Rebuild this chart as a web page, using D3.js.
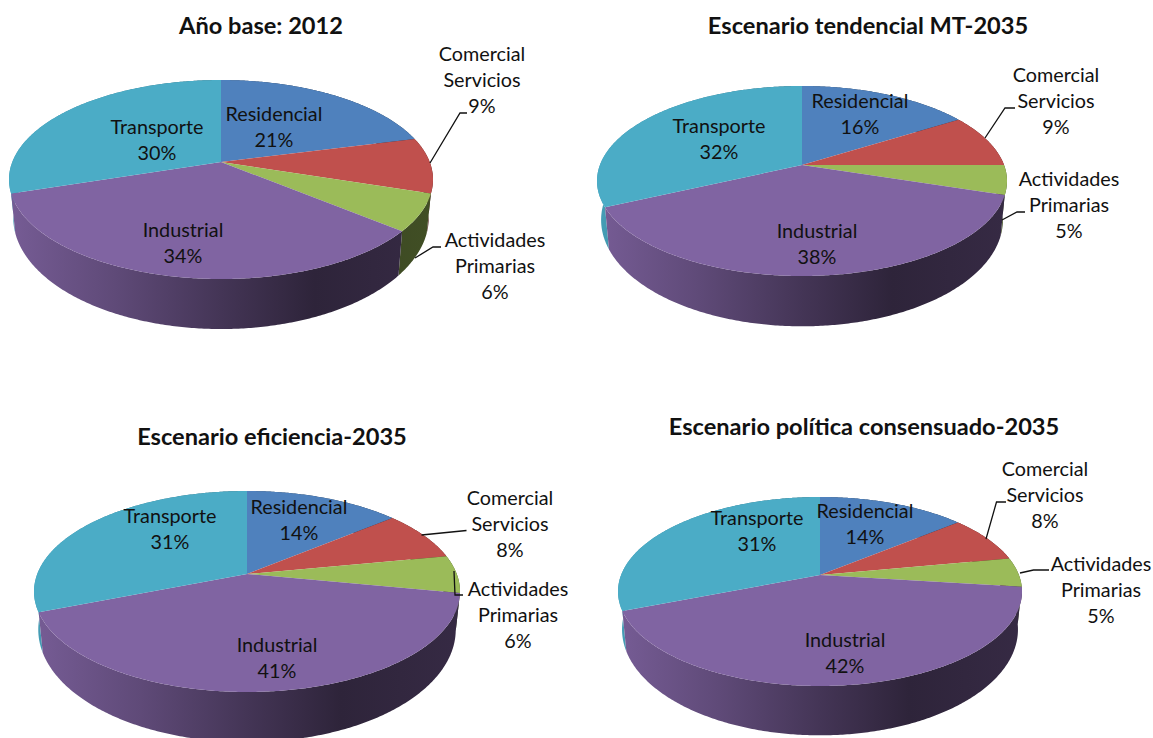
<!DOCTYPE html>
<html lang="es">
<head>
<meta charset="utf-8">
<title>Consumo de energía por sector</title>
<style>
  html, body { margin: 0; padding: 0; background: #fff; overflow: hidden; }
  svg { display: block; }
  text { font-family: Lato, "Open Sans", sans-serif; fill: #111; }
</style>
<script src="https://cdn.jsdelivr.net/npm/d3@7"></script>
</head>
<body>
<script>
// Sectors, clockwise from twelve o'clock
const sectors = ["Residencial", "Comercial Servicios", "Actividades Primarias", "Industrial", "Transporte"];

// Share of each sector per scenario (%)
const base2012 = [21, 9, 6, 34, 30];
const tendencial2035 = [16, 9, 5, 38, 32];
const eficiencia2035 = [14, 8, 6, 41, 31];
const politica2035 = [14, 8, 5, 42, 31];

const titles = [
  "Año base: 2012",
  "Escenario tendencial MT-2035",
  "Escenario eficiencia-2035",
  "Escenario política consensuado-2035"
];
const scenarios = [base2012, tendencial2035, eficiencia2035, politica2035];

const sectorColors = ["#4f81bd", "#c0504d", "#9bbb59", "#8064a2", "#4bacc6"];

// Layout of each panel: apex, extents of the tilted disc, wall drop,
// title position, label centres [x, y of first line] and leader paths.
const panels = [
  { cx: 221, cy: 162, up: 82, down: 117, half: 212, drop: 36, title: [261, 26],
    labels: [[274, 114], [482, 54], [495, 240], [183, 230], [157, 127]],
    leaders: [{ from: [430, 163], via: [[460, 113], [467, 113]] },
              { from: [415, 258], via: [[433, 247], [441, 247]] }] },
  { cx: 802, cy: 165, up: 79, down: 111, half: 205, drop: 37, title: [868, 26],
    labels: [[860, 101], [1056, 75], [1069, 179], [817, 231], [719, 126]],
    leaders: [{ from: [985, 138], via: [[1005, 108], [1015, 108]] },
              { from: [1002, 220], via: [[1017, 212], [1025, 212]] }] },
  { cx: 247, cy: 574, up: 83, down: 118, half: 213, drop: 36, title: [272, 437],
    labels: [[299, 507], [510, 498], [518, 589], [277, 645], [170, 516]],
    leaders: [{ from: [421.5, 535], via: [[466.5, 530.5]] },
              { from: [454, 571], via: [[455, 595], [463, 595]] }] },
  { cx: 820, cy: 575, up: 78, down: 111, half: 202, drop: 36, title: [864, 427],
    labels: [[865, 511], [1045, 469], [1101, 564], [845, 640], [757, 518]],
    leaders: [{ from: [986, 539], via: [[996.5, 502], [1006, 502]] },
              { from: [1020, 573], via: [[1033.5, 570], [1049, 570]] }] }
];

// The lower rim is narrower but reads taller towards the viewer
const wallScaleX = 0.98;
const wallScaleY = 1.12;
const lineStep = 26;

const svg = d3.select("body").append("svg").attr("width", 1153).attr("height", 738);
const defs = svg.append("defs");
const pie = d3.pie().sort(null).startAngle(0).endAngle(2 * Math.PI);
const outline = d3.line();

// Perspective projection of the unit disc, fitted to the panel's extents
function projector(p) {
  const ratio = p.down / p.up;
  const k = (ratio - 1) / (ratio + 1);
  const Q = p.up * (1 + k);
  const R = p.half * Math.sqrt(1 - k * k);
  const top = a => {
    const u = Math.sin(a), v = Math.cos(a), w = 1 + k * v;
    return [p.cx + R * u / w, p.cy - Q * v / w];
  };
  const lower = a => {
    const [x, y] = top(a);
    return [p.cx + wallScaleX * (x - p.cx), p.cy + p.drop + wallScaleY * (y - p.cy)];
  };
  return { top, lower };
}

function samples(a0, a1) {
  const n = Math.max(2, Math.ceil((a1 - a0) / 0.01));
  return d3.range(n + 1).map(i => a0 + (a1 - a0) * i / n);
}

// Horizontal shading of the outer wall: light on the left, darkest past centre
function wallGradient(id, color, p) {
  const g = defs.append("linearGradient").attr("id", id)
    .attr("gradientUnits", "userSpaceOnUse")
    .attr("x1", p.cx - p.half).attr("x2", p.cx + p.half).attr("y1", 0).attr("y2", 0);
  [[0, 0.92], [0.25, 0.74], [0.5, 0.53], [0.72, 0.36], [1, 0.42]].forEach(([o, f]) => {
    const c = d3.rgb(color);
    g.append("stop").attr("offset", o)
      .attr("stop-color", d3.rgb(c.r * f, c.g * f, c.b * f).formatHex());
  });
  return `url(#${id})`;
}

scenarios.forEach((values, pi) => {
  const p = panels[pi];
  const proj = projector(p);
  const arcs = pie(values);
  const g = svg.append("g");

  // Walls first, back to front, then the top faces over them
  const order = d3.range(arcs.length).sort((a, b) => {
    const mid = i => Math.abs((arcs[i].startAngle + arcs[i].endAngle) / 2 - Math.PI);
    return mid(b) - mid(a);
  });
  order.forEach(i => {
    const as = samples(arcs[i].startAngle, arcs[i].endAngle);
    const pts = as.map(a => proj.top(a)).concat(as.slice().reverse().map(a => proj.lower(a)));
    g.append("path").attr("d", outline(pts) + "Z")
      .attr("fill", wallGradient(`wall-${pi}-${i}`, sectorColors[i], p));
  });
  arcs.forEach((d, i) => {
    const pts = [[p.cx, p.cy]].concat(samples(d.startAngle, d.endAngle).map(a => proj.top(a)));
    g.append("path").attr("d", outline(pts) + "Z").attr("fill", sectorColors[i]);
  });

  // Leaders for the two narrow sectors
  p.leaders.forEach(l => {
    g.append("path").attr("d", outline([l.from, ...l.via]))
      .attr("fill", "none").attr("stroke", "#111").attr("stroke-width", 1.3);
  });

  // Sector labels: name (split on the space for outside labels) and share
  values.forEach((v, i) => {
    const lines = [...sectors[i].split(" "), `${v}%`];
    const [x, y] = p.labels[i];
    lines.forEach((t, j) => {
      g.append("text").attr("x", x).attr("y", y + j * lineStep).attr("dy", "0.35em")
        .attr("text-anchor", "middle").attr("font-size", 19.8).text(t);
    });
  });

  g.append("text").attr("x", p.title[0]).attr("y", p.title[1]).attr("dy", "0.35em")
    .attr("text-anchor", "middle").attr("font-size", 23.6).attr("font-weight", 700)
    .text(titles[pi]);
});
</script>
</body>
</html>
